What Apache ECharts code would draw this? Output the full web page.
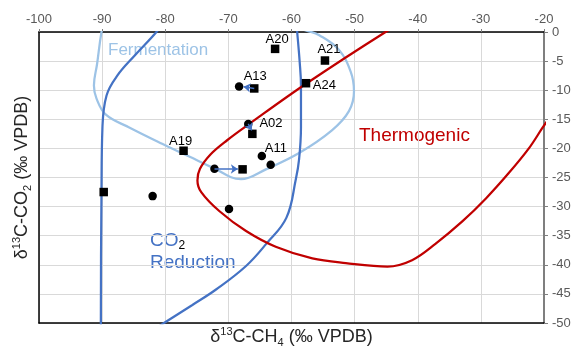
<!DOCTYPE html>
<html>
<head>
<meta charset="utf-8">
<script src="https://cdn.jsdelivr.net/npm/echarts@6/dist/echarts.min.js"></script>
<style>
html,body{margin:0;padding:0;background:#fff;}
#chart{width:579px;height:353px;}
</style>
</head>
<body>
<div id="chart"></div>
<script>
// ---- Data ----
const xTickMin = -100, xTickMax = -20, xTickStep = 10;
const yTickMin = -50, yTickMax = 0, yTickStep = 5;

// Square samples
const squareNames = ['A20','A21','A24','A13','A02','A19','',''];
const squareLabels = ['A20','A21','A24','A13','','A19','',''];
const squareX = [-62.6,-54.7,-57.7,-65.9,-66.2,-77.1,-67.75,-89.75];
const squareY = [-2.9,-4.9,-8.8,-9.7,-17.5,-20.4,-23.6,-27.5];

// Circle samples
const circleLabels = ['','A02','A11','','','',''];
const circleX = [-68.3,-66.85,-64.7,-63.3,-72.2,-82.0,-69.9];
const circleY = [-9.35,-15.8,-21.3,-22.8,-23.5,-28.2,-30.4];

// Arrows (start -> end)
const arrowStartX = [-65.9,-66.85,-72.2];
const arrowStartY = [-9.7,-15.8,-23.5];
const arrowEndX   = [-67.6,-66.3,-68.5];
const arrowEndY   = [-9.4,-16.9,-23.55];

// Field boundaries
const fermentationX = [-89.7,-90.1,-90.8,-91.3,-90.9,-89.4,-85.7,-80.5,-76.2,-72.5,-68.0,-64.05,-58.8,-53.6,-50.9,-50.1,-50.6,-52.5,-55.6,-57.5,-59.5];
const fermentationY = [1.5,0,-5.5,-9.2,-11.4,-14.2,-16.4,-19.2,-21.4,-23.3,-25.3,-23.6,-20.8,-16.9,-13.6,-10.2,-6.9,-3.05,-0.55,0.2,0.8];

const co2LeftX = [-80.5,-81.4,-84.8,-87.6,-89.3,-89.95,-90.1,-90.2,-90.2];
const co2LeftY = [1.5,0,-4.0,-7.5,-10.9,-16.4,-27.5,-50,-52];

const co2RightX = [-59.2,-59.1,-58.7,-58.5,-58.5,-58.8,-59.3,-60.8,-64.0,-67.2,-71.9,-75.7,-80.2,-81.6];
const co2RightY = [1,0,-5.2,-9.2,-16.4,-21.9,-25.2,-31.9,-36.4,-40.2,-44.2,-46.9,-50,-51];

const thermoX = [-42.5,-45.1,-57.7,-66.7,-70.2,-72.8,-74.5,-74.9,-74.3,-71.4,-67.2,-62.5,-56.7,-51.4,-44.8,-40.9,-37.2,-32.9,-29.2,-25.55,-22.4,-20.2,-18.5];
const thermoY = [1.5,0,-8.9,-15.8,-18.6,-21.0,-23.5,-25.5,-27.5,-30.8,-34.2,-36.9,-38.9,-39.7,-40.3,-39.2,-36.4,-32.5,-28.6,-24.2,-20.0,-16.4,-13.8];

// ---- Styling ----
const FONT = 'Liberation Sans, Arial, sans-serif';
const labelOffsets = {
  A20:[2,-9], A21:[4,-11.5], A24:[18.3,2.4], A13:[1,-12],
  A02:[22.7,-0.7], A11:[14,-7.6], A19:[-3,-9.6]
};
function zip(xs, ys){ return xs.map((x,i)=>[x, ys[i]]); }
function pointData(xs, ys, labels){
  return xs.map((x,i)=>{
    const d = {value:[x, ys[i]], name: labels[i]};
    if (labels[i]) {
      d.label = {show:true, position:'inside', offset: labelOffsets[labels[i]],
        formatter: labels[i], color:'#000', fontSize:13, fontFamily:FONT};
    }
    return d;
  });
}
const nameRich = {
  a:{fontSize:18, fontFamily:FONT, color:'#262626', lineHeight:22},
  sup:{fontSize:11, fontFamily:FONT, color:'#262626', lineHeight:22, verticalAlign:'top', padding:[0,0,8,0]},
  sub:{fontSize:11, fontFamily:FONT, color:'#262626', lineHeight:22, verticalAlign:'bottom', padding:[6,0,0,0]}
};

const chart = echarts.init(document.getElementById('chart'), null, {renderer:'canvas'});
const option = {
  animation:false,
  backgroundColor:'#fff',
  grid:{left:39, right:35, top:32, bottom:21, containLabel:false},
  xAxis:[
    {type:'value', position:'top', min:xTickMin, max:xTickMax, interval:xTickStep,
     axisLine:{show:true, onZero:false, lineStyle:{color:'#000', width:1.5}},
     axisTick:{show:true, length:3, lineStyle:{color:'#7f7f7f'}},
     axisLabel:{color:'#595959', fontSize:13, fontFamily:FONT, margin:6},
     splitLine:{show:true, lineStyle:{color:'#d9d9d9', width:1}}},
    {type:'value', position:'bottom', min:xTickMin, max:xTickMax, interval:xTickStep,
     axisLine:{show:true, onZero:false, lineStyle:{color:'#000', width:1.5}},
     axisTick:{show:false}, axisLabel:{show:false}, splitLine:{show:false},
     name:'{a|δ}{sup|13}{a|C-CH}{sub|4}{a| (‰ VPDB)}',
     nameLocation:'middle', nameGap:3,
     nameTextStyle:{rich:nameRich}}
  ],
  yAxis:[
    {type:'value', position:'right', min:yTickMin, max:yTickMax, interval:yTickStep,
     axisLine:{show:true, onZero:false, lineStyle:{color:'#7f7f7f', width:2}},
     axisTick:{show:true, length:4, lineStyle:{color:'#7f7f7f'}},
     axisLabel:{color:'#595959', fontSize:13, fontFamily:FONT, margin:8},
     splitLine:{show:true, lineStyle:{color:'#d9d9d9', width:1}}},
    {type:'value', position:'left', min:yTickMin, max:yTickMax, interval:yTickStep,
     axisLine:{show:true, onZero:false, lineStyle:{color:'#000', width:1.5}},
     axisTick:{show:false}, axisLabel:{show:false}, splitLine:{show:false},
     name:'{a|δ}{sup|13}{a|C-CO}{sub|2}{a| (‰ VPDB)}',
     nameLocation:'middle', nameGap:6, nameRotate:90,
     nameTextStyle:{rich:nameRich}}
  ],
  series:[
    {name:'Fermentation', type:'line', data:zip(fermentationX, fermentationY), smooth:0.4,
     showSymbol:false, clip:true, lineStyle:{color:'#9DC3E6', width:2.25}, z:2},
    {name:'CO2 Reduction L', type:'line', data:zip(co2LeftX, co2LeftY), smooth:0.4,
     showSymbol:false, clip:true, lineStyle:{color:'#4472C4', width:2.25}, z:3},
    {name:'CO2 Reduction R', type:'line', data:zip(co2RightX, co2RightY), smooth:0.4,
     showSymbol:false, clip:true, lineStyle:{color:'#4472C4', width:2.25}, z:3},
    {name:'Thermogenic', type:'line', data:zip(thermoX, thermoY), smooth:0.35,
     showSymbol:false, clip:true, lineStyle:{color:'#C00000', width:2.25}, z:3},
    {name:'Arrows', type:'lines', coordinateSystem:'cartesian2d',
     symbol:['none','arrow'], symbolSize:7,
     lineStyle:{color:'#4472C4', width:1.5, opacity:1, curveness:0},
     data:arrowStartX.map((x,i)=>({coords:[[x, arrowStartY[i]],[arrowEndX[i], arrowEndY[i]]]})), z:6},
    {name:'Circles', type:'scatter', symbol:'circle', symbolSize:8.5,
     itemStyle:{color:'#000', opacity:1}, data:pointData(circleX, circleY, circleLabels), z:5},
    {name:'Squares', type:'scatter', symbol:'rect', symbolSize:8.5,
     itemStyle:{color:'#000', opacity:1}, data:pointData(squareX, squareY, squareLabels), z:5}
  ],
  graphic:[
    {type:'text', left:108, top:42, style:{text:'Fermentation', fill:'#9DC3E6', fontSize:17, fontFamily:FONT}},
    {type:'text', left:359, top:126, style:{text:'Thermogenic', fill:'#C00000', fontSize:19, fontFamily:FONT}},
    {type:'text', left:150, top:231, style:{
      text:'{a|CO}{b|2}\n{a|Reduction}',
      rich:{a:{fontSize:19, fontFamily:FONT, fill:'#4472C4', color:'#4472C4', lineHeight:22},
            b:{fontSize:12, fontFamily:FONT, fill:'#000', color:'#000', lineHeight:22, verticalAlign:'bottom', padding:[6,0,0,0]}}}}
  ]
};
chart.setOption(option);
</script>
</body>
</html>
